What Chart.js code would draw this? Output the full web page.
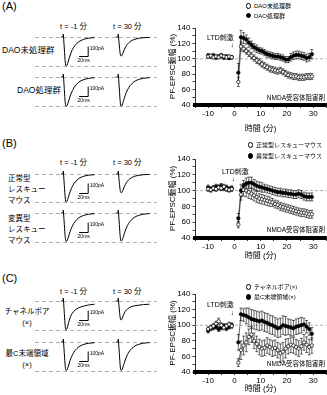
<!DOCTYPE html>
<html>
<head>
<meta charset="utf-8">
<script src="https://cdn.jsdelivr.net/npm/chart.js@4.4.1/dist/chart.umd.min.js"></script>
<style>
body { margin: 0; background: #fff; }
#wrap { position: relative; width: 327px; height: 395px; overflow: hidden;
        font-family: "Liberation Sans", "Noto Sans CJK JP", sans-serif; color: #000; }
#wrap canvas { position: absolute; }
.t { position: absolute; white-space: nowrap; line-height: 1; }
.panel { font-size: 11px; }
.tl { font-size: 7.5px; }
.row { font-size: 7.5px; line-height: 11px; }
.ltd { font-size: 7px; }
.arr { font-size: 7px; }
.nmda { font-size: 6.5px; text-align: right; width: 80px; }
.leg { font-size: 6px; }
.mk { display: inline-block; width: 3.4px; height: 3.4px; border: 0.8px solid #000; border-radius: 50%;
      margin-right: 2.5px; vertical-align: -0.5px; background: #fff; }
.mk.f { background: #000; }
</style>
</head>
<body>
<div id="wrap">
  <!-- panel A -->
  <div class="t panel" style="left:2px;top:1px">(A)</div>
  <div class="t tl" style="left:60px;top:23px">t = -1 分</div>
  <div class="t tl" style="left:113px;top:23px">t = 30 分</div>
  <div class="t" style="left:2px;top:46px;font-size:8.5px">DAO未処理群</div>
  <div class="t" style="left:17px;top:86px;font-size:8.5px">DAO処理群</div>
  <canvas id="traceA1" width="122" height="37" style="left:35px;top:32px"></canvas>
  <canvas id="traceA2" width="122" height="37" style="left:35px;top:72px"></canvas>
  <canvas id="timeA" width="163" height="118" style="left:168px;top:20px"></canvas>
  <div class="t leg" style="left:246px;top:3px"><span class="mk"></span>DAO未処理群</div>
  <div class="t leg" style="left:246px;top:12.5px"><span class="mk f"></span>DAO処理群</div>
  <div class="t ltd" style="left:207px;top:33.5px">LTD刺激</div>
  <div class="t arr" style="left:230.5px;top:40.5px">↓</div>
  <div class="t nmda" style="left:245px;top:94.5px">NMDA受容体阻害剤</div>

  <!-- panel B -->
  <div class="t panel" style="left:2px;top:138px">(B)</div>
  <div class="t tl" style="left:60px;top:159px">t = -1 分</div>
  <div class="t tl" style="left:113px;top:159px">t = 30 分</div>
  <div class="t row" style="left:8px;top:172.5px">正常型<br>レスキュー<br>マウス</div>
  <div class="t row" style="left:8px;top:212.5px">変異型<br>レスキュー<br>マウス</div>
  <canvas id="traceB1" width="122" height="37" style="left:35px;top:169px"></canvas>
  <canvas id="traceB2" width="122" height="37" style="left:35px;top:208px"></canvas>
  <canvas id="timeB" width="163" height="114" style="left:168px;top:151px"></canvas>
  <div class="t leg" style="left:248px;top:142px"><span class="mk"></span>正常型レスキューマウス</div>
  <div class="t leg" style="left:248px;top:153px"><span class="mk f"></span>異常型レスキューマウス</div>
  <div class="t ltd" style="left:222px;top:168px">LTD刺激</div>
  <div class="t arr" style="left:231.5px;top:174.5px">↓</div>
  <div class="t nmda" style="left:245px;top:226.5px">NMDA受容体阻害剤</div>

  <!-- panel C -->
  <div class="t panel" style="left:2px;top:273px">(C)</div>
  <div class="t tl" style="left:60px;top:288px">t = -1 分</div>
  <div class="t tl" style="left:113px;top:288px">t = 30 分</div>
  <div class="t row" style="left:3px;top:305.5px;width:48px;text-align:center">チャネルポア<br>(×)</div>
  <div class="t row" style="left:3px;top:347.5px;width:48px;text-align:center">最C末端領域<br>(×)</div>
  <canvas id="traceC1" width="122" height="37" style="left:35px;top:296px"></canvas>
  <canvas id="traceC2" width="122" height="37" style="left:35px;top:337px"></canvas>
  <canvas id="timeC" width="163" height="109" style="left:168px;top:286px"></canvas>
  <div class="t leg" style="left:246px;top:284px"><span class="mk"></span>チャネルポア(×)</div>
  <div class="t leg" style="left:246px;top:294px"><span class="mk f"></span>最C末端領域(×)</div>
  <div class="t ltd" style="left:207px;top:301px">LTD刺激</div>
  <div class="t arr" style="left:230.5px;top:308.5px">↓</div>
  <div class="t nmda" style="left:245px;top:361px">NMDA受容体阻害剤</div>
</div>

<script>
// time axis (min); 0 = LTD stimulation, left empty
const minutes = [-10,-9,-8,-7,-6,-5,-4,-3,-2,-1,0,
    1.5,2.5,3.5,4.5,5.5,6.5,7.5,8.5,9.5,10.5,11.5,12.5,13.5,14.5,15.5,16.5,17.5,18.5,19.5,
    20.5,21.5,22.5,23.5,24.5,25.5,26.5,27.5,28.5,29.5];

// (A) DAO
const daoUntreated = [103,104,102,103,102,104,103,102,103,102,null,
    70,116,113,110,107,104,101,98,96,93,91,89,87,86,85,84,85,83,81,79,78,77,77,76,76,76,77,77,77];
const daoUntreatedErr = [2,2,2,2,2,2,2,2,2,2,null,
    6,6,4,4,4,4,4,4,4,4,4,4,4,4,4,4,4,4,4,4,4,4,4,4,4,4,4,4,4];
const daoTreated = [104,103,104,102,103,104,102,103,101,102,null,
    82,128,127,125,121,118,115,113,111,110,108,106,105,104,103,103,102,101,99,99,102,104,105,105,104,103,101,102,106];
const daoTreatedErr = [3,2,3,3,2,3,3,2,2,2,null,
    12,9,7,6,6,5,5,5,4,4,4,4,4,4,4,4,4,4,4,4,5,5,5,5,5,5,5,5,6];

// (B) rescue mice
const rescueNormal = [102,101,103,102,104,103,105,102,101,102,null,
    57,95,101,100,98,96,94,92,90,89,88,87,86,85,83,82,80,79,78,77,76,75,74,73,72,72,71,70,70];
const rescueNormalErr = [3,3,3,3,3,3,3,3,3,3,null,
    4,7,8,8,8,7,7,7,6,6,6,6,6,5,5,5,5,5,5,5,5,5,5,5,5,5,5,5,5];
const rescueMutant = [104,102,103,105,104,106,103,104,102,103,null,
    65,100,106,109,110,110,108,106,105,104,103,102,101,100,99,98,98,97,97,96,96,95,95,96,95,93,92,92,92];
const rescueMutantErr = [3,3,3,3,3,3,3,3,3,3,null,
    6,8,7,7,7,7,6,6,6,6,5,5,5,5,5,5,5,5,5,5,5,5,5,5,5,5,5,5,5];

// (C) channel pore / C-terminal
const channelPore = [95,97,99,102,105,100,97,99,101,99,null,
    52,68,74,78,85,88,80,76,72,70,71,74,72,70,71,68,64,66,70,73,75,74,72,70,73,78,75,72,74];
const channelPoreErr = [3,3,3,3,4,3,3,3,3,3,null,
    5,12,12,12,10,10,10,10,10,10,10,10,10,10,10,10,12,12,12,10,10,10,10,10,10,10,10,10,10];
const cTerminal = [93,96,97,98,95,97,99,96,98,100,null,
    78,114,113,112,110,108,107,106,105,106,104,103,101,100,98,96,97,100,99,98,97,96,98,99,100,101,98,95,89];
const cTerminalErr = [3,3,3,3,3,3,3,3,3,3,null,
    10,8,8,10,12,12,12,12,12,12,12,12,12,12,12,12,12,12,12,10,10,10,10,10,10,8,8,8,8];

const xTickLabels = [-10, 0, 10, 20, 30];
const xTickMarks = [-15,-10,-5,0,5,10,15,20,25,30,35];
const yTickLabels = [40, 60, 80, 100, 120, 140];
const yTickMarks = [40,50,60,70,80,90,100,110,120,130,140];
const baselinePercent = 100;

// EPSC traces (ms, pA)
const traceMs = [-4,0,0.6,1.2,3,5,7,9,12,16,21,27,35,45,57,70];
const traceA1pre  = [0,0,30,0,-120,-250,-290,-282,-240,-180,-125,-82,-48,-25,-12,-6];
const traceA1post = [0,0,30,0,-90,-170,-190,-182,-150,-108,-72,-46,-27,-14,-7,-4];
const traceA2pre  = [0,0,30,0,-125,-255,-292,-285,-248,-190,-135,-90,-52,-28,-14,-7];
const traceA2post = [0,0,30,0,-120,-250,-290,-283,-244,-185,-130,-86,-50,-26,-13,-6];
const traceB1pre  = [0,0,30,0,-115,-240,-280,-272,-232,-175,-122,-80,-46,-24,-12,-6];
const traceB1post = [0,0,30,0,-85,-165,-188,-180,-150,-108,-72,-46,-26,-14,-7,-4];
const traceB2pre  = [0,0,30,0,-118,-245,-285,-278,-240,-182,-128,-84,-49,-26,-13,-6];
const traceB2post = [0,0,30,0,-115,-240,-280,-273,-236,-180,-126,-83,-48,-25,-12,-6];
const traceC1pre  = [0,0,30,0,-125,-255,-290,-275,-225,-165,-120,-90,-68,-52,-40,-32];
const traceC1post = [0,0,30,0,-90,-170,-190,-178,-142,-105,-80,-62,-50,-42,-36,-32];
const traceC2pre  = [0,0,30,0,-118,-245,-285,-278,-240,-182,-128,-84,-49,-26,-13,-6];
const traceC2post = [0,0,30,0,-115,-242,-284,-277,-238,-180,-126,-83,-48,-25,-12,-6];
const scaleBarPA = 100;
const scaleBarMs = 20;

Chart.defaults.font.family = "'Liberation Sans', 'Noto Sans CJK JP', sans-serif";
Chart.defaults.color = '#000';

// error bars + dashed 100% line, drawn under the markers
const errorBars = {
    id: 'errorBars',
    beforeDatasetsDraw(chart) {
        const { ctx, chartArea, scales: { x, y } } = chart;
        ctx.save();
        ctx.strokeStyle = '#999';
        ctx.lineWidth = 0.8;
        ctx.setLineDash([3, 2]);
        const yb = y.getPixelForValue(baselinePercent);
        ctx.beginPath();
        ctx.moveTo(chartArea.left, yb);
        ctx.lineTo(chartArea.right, yb);
        ctx.stroke();
        ctx.setLineDash([]);
        ctx.strokeStyle = '#000';
        ctx.lineWidth = 0.6;
        chart.data.datasets.forEach(ds => {
            ds.data.forEach((p, i) => {
                const e = ds.errors[i];
                if (p.y == null || e == null) return;
                const px = x.getPixelForValue(p.x);
                const top = y.getPixelForValue(p.y + e);
                const bot = y.getPixelForValue(p.y - e);
                ctx.beginPath();
                ctx.moveTo(px, top); ctx.lineTo(px, bot);
                ctx.moveTo(px - 1.5, top); ctx.lineTo(px + 1.5, top);
                ctx.moveTo(px - 1.5, bot); ctx.lineTo(px + 1.5, bot);
                ctx.stroke();
            });
        });
        ctx.restore();
    }
};

function toPoints(vals) {
    return minutes.map((m, i) => ({ x: m, y: vals[i] }));
}

// axisHeight: room under the plot for ticks + title (differs a bit per panel)
function timeChart(id, openVals, openErr, filledVals, filledErr, axisHeight, titlePadBottom) {
    new Chart(document.getElementById(id), {
        type: 'line',
        data: {
            datasets: [
                { data: toPoints(openVals), errors: openErr, backgroundColor: '#fff', order: 1 },
                { data: toPoints(filledVals), errors: filledErr, backgroundColor: '#000', order: 2 }
            ]
        },
        options: {
            responsive: false, animation: false, events: [],
            layout: { padding: { top: 8, right: 1, left: 0, bottom: 0 } },
            elements: {
                line: { borderColor: '#000', borderWidth: 0.6, tension: 0 },
                point: { radius: 1.7, borderColor: '#000', borderWidth: 0.7, pointStyle: 'circle' }
            },
            spanGaps: false,
            plugins: { legend: { display: false }, tooltip: { enabled: false } },
            scales: {
                x: {
                    type: 'linear', min: -15, max: 35,
                    afterBuildTicks: s => { s.ticks = xTickMarks.map(v => ({ value: v })); },
                    afterFit: s => { s.height = axisHeight; },
                    ticks: { autoSkip: false, maxRotation: 0, padding: 1, font: { size: 8 },
                             callback: v => xTickLabels.includes(v) ? String(v) : '' },
                    grid: { display: true, drawOnChartArea: false, drawTicks: true, tickLength: 3,
                            color: '#000', lineWidth: 0.8 },
                    border: { display: true, color: '#000', width: 4 },
                    title: { display: true, text: '時間 (分)', font: { size: 8 },
                             padding: { top: 2, bottom: titlePadBottom } }
                },
                y: {
                    type: 'linear', min: 40, max: 140,
                    afterBuildTicks: s => { s.ticks = yTickMarks.map(v => ({ value: v })); },
                    afterFit: s => { s.width = 27; },
                    ticks: { autoSkip: false, padding: 2, font: { size: 8 },
                             callback: v => yTickLabels.includes(v) ? String(v) : '' },
                    grid: { display: true, drawOnChartArea: false, drawTicks: true, tickLength: 2.5,
                            color: '#000', lineWidth: 0.8 },
                    border: { display: true, color: '#000', width: 0.8 },
                    title: { display: true, text: 'PF-EPSC振幅 (%)', font: { size: 8 }, padding: 0 }
                }
            }
        },
        plugins: [errorBars]
    });
}

// dashed guide lines (baseline and -1 min peak) plus the scale bar
const traceGuides = {
    id: 'traceGuides',
    beforeDatasetsDraw(chart) {
        const { ctx, chartArea, scales: { y } } = chart;
        const pre = chart.data.datasets[0].data.map(p => p.y);
        ctx.save();
        ctx.strokeStyle = '#9a9a9a';
        ctx.lineWidth = 0.8;
        ctx.setLineDash([4, 3]);
        [0, Math.min(...pre)].forEach(v => {
            const py = Math.round(y.getPixelForValue(v)) + 0.5;
            ctx.beginPath();
            ctx.moveTo(chartArea.left, py);
            ctx.lineTo(chartArea.right, py);
            ctx.stroke();
        });
        ctx.restore();
    },
    afterDatasetsDraw(chart) {
        const { ctx, scales: { x1, y } } = chart;
        const barEnd = 56, barBottom = -195;
        const xr = x1.getPixelForValue(barEnd);
        const xl = x1.getPixelForValue(barEnd - scaleBarMs);
        const yb = y.getPixelForValue(barBottom);
        const yt = y.getPixelForValue(barBottom + scaleBarPA);
        ctx.save();
        ctx.strokeStyle = '#000';
        ctx.lineWidth = 1;
        ctx.beginPath();
        ctx.moveTo(xl, yb); ctx.lineTo(xr, yb); ctx.lineTo(xr, yt);
        ctx.stroke();
        ctx.fillStyle = '#000';
        ctx.font = "5px 'Liberation Sans'";
        ctx.textBaseline = 'middle';
        ctx.textAlign = 'left';
        ctx.fillText(scaleBarPA + 'pA', xr + 1.5, y.getPixelForValue(barBottom + scaleBarPA * 0.75));
        ctx.textAlign = 'center';
        ctx.fillText(scaleBarMs + 'ms', (xl + xr) / 2, yb + 4.5);
        ctx.restore();
    }
};

function traceRow(id, pre, post) {
    new Chart(document.getElementById(id), {
        type: 'line',
        data: {
            datasets: [
                { data: traceMs.map((t, i) => ({ x: t, y: pre[i] })), xAxisID: 'x1' },
                { data: traceMs.map((t, i) => ({ x: t, y: post[i] })), xAxisID: 'x2' }
            ]
        },
        options: {
            responsive: false, animation: false, events: [],
            layout: { padding: 0 },
            elements: {
                point: { radius: 0 },
                line: { borderColor: '#000', borderWidth: 1, cubicInterpolationMode: 'monotone' }
            },
            plugins: { legend: { display: false }, tooltip: { enabled: false } },
            scales: {
                x1: { type: 'linear', display: false, min: -62.2, max: 208.9 },
                x2: { type: 'linear', display: false, min: -184.4, max: 86.7 },
                y: { type: 'linear', display: false, min: -320, max: 50 }
            }
        },
        plugins: [traceGuides]
    });
}

traceRow('traceA1', traceA1pre, traceA1post);
traceRow('traceA2', traceA2pre, traceA2post);
traceRow('traceB1', traceB1pre, traceB1post);
traceRow('traceB2', traceB2pre, traceB2post);
traceRow('traceC1', traceC1pre, traceC1post);
traceRow('traceC2', traceC2pre, traceC2post);

timeChart('timeA', daoUntreated, daoUntreatedErr, daoTreated, daoTreatedErr, 33, 4);
timeChart('timeB', rescueNormal, rescueNormalErr, rescueMutant, rescueMutantErr, 27, 4);
timeChart('timeC', channelPore, channelPoreErr, cTerminal, cTerminalErr, 23, 1);
</script>
</body>
</html>
